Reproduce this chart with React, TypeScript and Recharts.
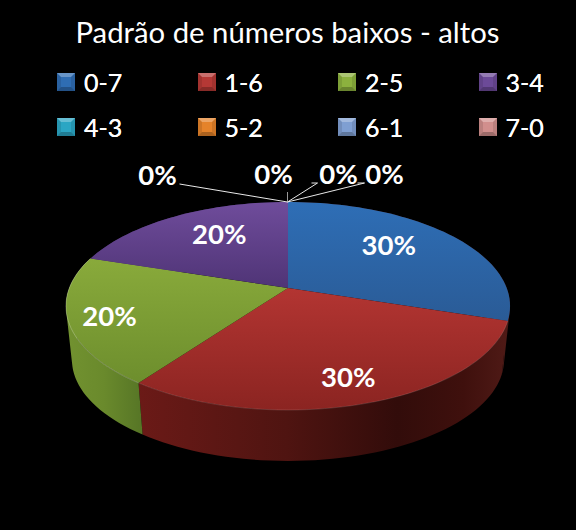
import React from "react";
import { PieChart, Pie, Legend } from "recharts";

const categories = ["0-7", "1-6", "2-5", "3-4", "4-3", "5-2", "6-1", "7-0"];
const shares = [30, 30, 20, 20, 0, 0, 0, 0];
const chartTitle = "Padrão de números baixos - altos";

const legendColors = ["#2f6db3", "#b53835", "#8cb13e", "#6c4a98", "#2ba6c4", "#e5832a", "#7f9fd2", "#d18f8d"];
const topGradients = [
  ["#2e6eb6", "#2a5b96"],
  ["#b33532", "#8b2421"],
  ["#89aa3b", "#6d8e2d"],
  ["#6f4c9b", "#4f3476"],
];
const sideGradients: [string, number][][] = [
  [["#4a1a16", 0], ["#4a1a16", 1]],
  [["#6b1a17", 0], ["#4f1411", 0.4], ["#320c0a", 0.7], ["#3f100d", 0.88], ["#4f1a16", 1]],
  [["#729230", 0], ["#6a8a2c", 0.5], ["#577626", 1]],
  [["#3a2858", 0], ["#3a2858", 1]],
];
const sideSpans = [[500, 512], [139, 508], [66, 141], [60, 100]];
const rimOpacity = [0, 0.14, 0.28, 0];

const FONT = "Lato, 'Open Sans', sans-serif";
const TILT = 0.4614;
const PERSP = 0.173;
const CX = 288;
const CY = 288;
const RADIUS = 218.7;
const RAD = Math.PI / 180;

type Pt = { x: number; y: number };

// project a point of the pie disc (polar angle, radius in px) into the tilted view
function project(cx: number, cy: number, r: number, deg: number): Pt {
  const u = Math.cos(deg * RAD) * (r / RADIUS);
  const v = -Math.sin(deg * RAD) * (r / RADIUS);
  const d = 1 - PERSP * v;
  return { x: cx + (RADIUS * u) / d, y: cy + (RADIUS * TILT * v) / d };
}
function lower(p: Pt, cx: number): Pt {
  return { x: cx + 0.973 * (p.x - cx), y: 0.973 * p.y + 62 };
}
function arcPoints(cx: number, cy: number, r: number, a0: number, a1: number) {
  const n = Math.max(2, Math.ceil(Math.abs(a1 - a0) / 2));
  const out: Pt[] = [];
  for (let i = 0; i <= n; i++) out.push(project(cx, cy, r, a0 + ((a1 - a0) * i) / n));
  return out;
}
const toPath = (pts: Pt[]) => pts.map((p, i) => `${i ? "L" : "M"}${p.x.toFixed(2)} ${p.y.toFixed(2)}`).join(" ");
const signedArea = (pts: Pt[]) =>
  pts.reduce((s, p, i) => {
    const q = pts[(i + 1) % pts.length];
    return s + p.x * q.y - q.x * p.y;
  }, 0);

function TopSlice(props: any) {
  const { cx, cy, outerRadius, startAngle, endAngle, name } = props;
  const i = categories.indexOf(name);
  if (Math.abs(endAngle - startAngle) < 0.01) return null;
  const arc = arcPoints(cx, cy, outerRadius, startAngle, endAngle);
  return (
    <g>
      <path d={`M${cx} ${cy} ${toPath(arc).replace("M", "L")} Z`} fill={`url(#top-${i})`} />
      {rimOpacity[i] > 0 && <path d={toPath(arc)} fill="none" stroke="#fff" strokeOpacity={rimOpacity[i]} strokeWidth={0.9} />}
    </g>
  );
}

function SideSlice(props: any) {
  const { cx, cy, outerRadius, startAngle, endAngle, name } = props;
  const i = categories.indexOf(name);
  if (Math.abs(endAngle - startAngle) < 0.01) return null;
  const arc = arcPoints(cx, cy, outerRadius, startAngle, endAngle);
  let d = "";
  for (let k = 0; k < arc.length - 1; k++) {
    const quad = [arc[k], arc[k + 1], lower(arc[k + 1], cx), lower(arc[k], cx)];
    if (signedArea(quad) < 0) quad.reverse();
    d += toPath(quad) + " Z ";
  }
  return <path d={d} fill={`url(#side-${i})`} fillRule="nonzero" />;
}

const labelReach = [0.63, 0.8, 0.86, 0.66];
const labelNudge = [[-4, -8], [-2, 0], [9, -1], [9, -5]];
const zeroLabelOffsets = [
  { tx: -130, ty: -28, path: [[-108, -18]] },
  { tx: -14, ty: -29, path: [[0, -10]] },
  { tx: 51, ty: -29, path: [[30, -19], [24, -19]] },
  { tx: 97, ty: -29, path: [[77, -19], [70, -19]] },
];

function SliceLabel(props: any) {
  const { cx, cy, outerRadius, midAngle, percent, index } = props;
  const text = `${Math.round(percent * 100)}%`;
  const style = { fill: "#fff", fontFamily: FONT, fontWeight: 700, fontSize: 27.5 };
  if (shares[index] > 0) {
    const p = project(cx, cy, outerRadius * labelReach[index], midAngle);
    return (
      <text x={p.x + labelNudge[index][0]} y={p.y + labelNudge[index][1]} textAnchor="middle" dominantBaseline="central" {...style}>
        {text}
      </text>
    );
  }
  const o = zeroLabelOffsets[index - 4];
  const apexX = cx - 0.5;
  const apexY = 202;
  const pts = [{ x: apexX, y: apexY }, ...o.path.map(([dx, dy]) => ({ x: apexX + dx, y: apexY + dy }))].reverse();
  return (
    <g>
      <path d={toPath(pts)} fill="none" stroke={index === 5 ? "#999" : "#e8e8e8"} strokeWidth={1} />
      <text x={apexX + o.tx} y={apexY + o.ty} textAnchor="middle" dominantBaseline="central" {...style}>
        {text}
      </text>
    </g>
  );
}

function LegendBlock(props: any) {
  const items = props.payload || [];
  return (
    <div style={{ position: "relative", width: 576, height: 100 }}>
      {items.map((it: any, idx: number) => {
        const i = categories.indexOf(it.value);
        const col = i % 4;
        const row = Math.floor(i / 4);
        const c = legendColors[i];
        return (
          <div key={idx} style={{ position: "absolute", left: 57 + col * 140.5, top: row * 44.5, display: "flex", alignItems: "center", height: 18 }}>
            <svg width={18} height={18} style={{ display: "block" }}>
              <rect x={0} y={0} width={18} height={18} fill={c} />
              <path d="M0 0 H18 L14 4 H4 Z" fill="#fff" fillOpacity={0.28} />
              <path d="M0 18 H18 L14 14 H4 Z" fill="#000" fillOpacity={0.25} />
              <path d="M0 0 V18 L4 14 V4 Z" fill="#000" fillOpacity={0.1} />
              <path d="M18 0 V18 L14 14 V4 Z" fill="#000" fillOpacity={0.1} />
            </svg>
            <span style={{ marginLeft: 9, color: "#fff", fontFamily: FONT, fontSize: 25, lineHeight: "18px" }}>{categories[i]}</span>
          </div>
        );
      })}
    </div>
  );
}

const rows = categories.map((name, i) => ({ name, value: shares[i] }));

export default function App() {
  return (
    <div style={{ position: "absolute", left: 0, top: 0, width: 576, height: 530, background: "#000", overflow: "hidden" }}>
      <PieChart width={576} height={530} margin={{ top: 0, right: 0, bottom: 0, left: 0 }}>
        <defs>
          {topGradients.map((g, i) => (
            <linearGradient key={i} id={`top-${i}`} x1="0" y1="0" x2="0" y2="1">
              <stop offset="0" stopColor={g[0]} />
              <stop offset="1" stopColor={g[1]} />
            </linearGradient>
          ))}
          {sideGradients.map((g, i) => (
            <linearGradient key={i} id={`side-${i}`} gradientUnits="userSpaceOnUse" x1={sideSpans[i][0]} y1="0" x2={sideSpans[i][1]} y2="0">
              {g.map((s, j) => (
                <stop key={j} offset={s[1]} stopColor={s[0]} />
              ))}
            </linearGradient>
          ))}
        </defs>
        <text x={287.5} y={31} textAnchor="middle" dominantBaseline="central" fill="#fff" fontFamily={FONT} fontSize={29.3}>
          {chartTitle}
        </text>
        <Pie
          data={rows}
          dataKey="value"
          nameKey="name"
          cx={CX}
          cy={CY}
          outerRadius={RADIUS}
          startAngle={90}
          endAngle={-270}
          stroke="none"
          legendType="none"
          isAnimationActive={false}
          shape={SideSlice}
          label={false}
          labelLine={false}
        />
        <Pie
          data={rows}
          dataKey="value"
          nameKey="name"
          cx={CX}
          cy={CY}
          outerRadius={RADIUS}
          startAngle={90}
          endAngle={-270}
          stroke="none"
          isAnimationActive={false}
          shape={TopSlice}
          label={SliceLabel}
          labelLine={false}
        />
        <Legend content={LegendBlock} wrapperStyle={{ position: "absolute", left: 0, top: 73, width: 576, height: 100 }} />
      </PieChart>
    </div>
  );
}
